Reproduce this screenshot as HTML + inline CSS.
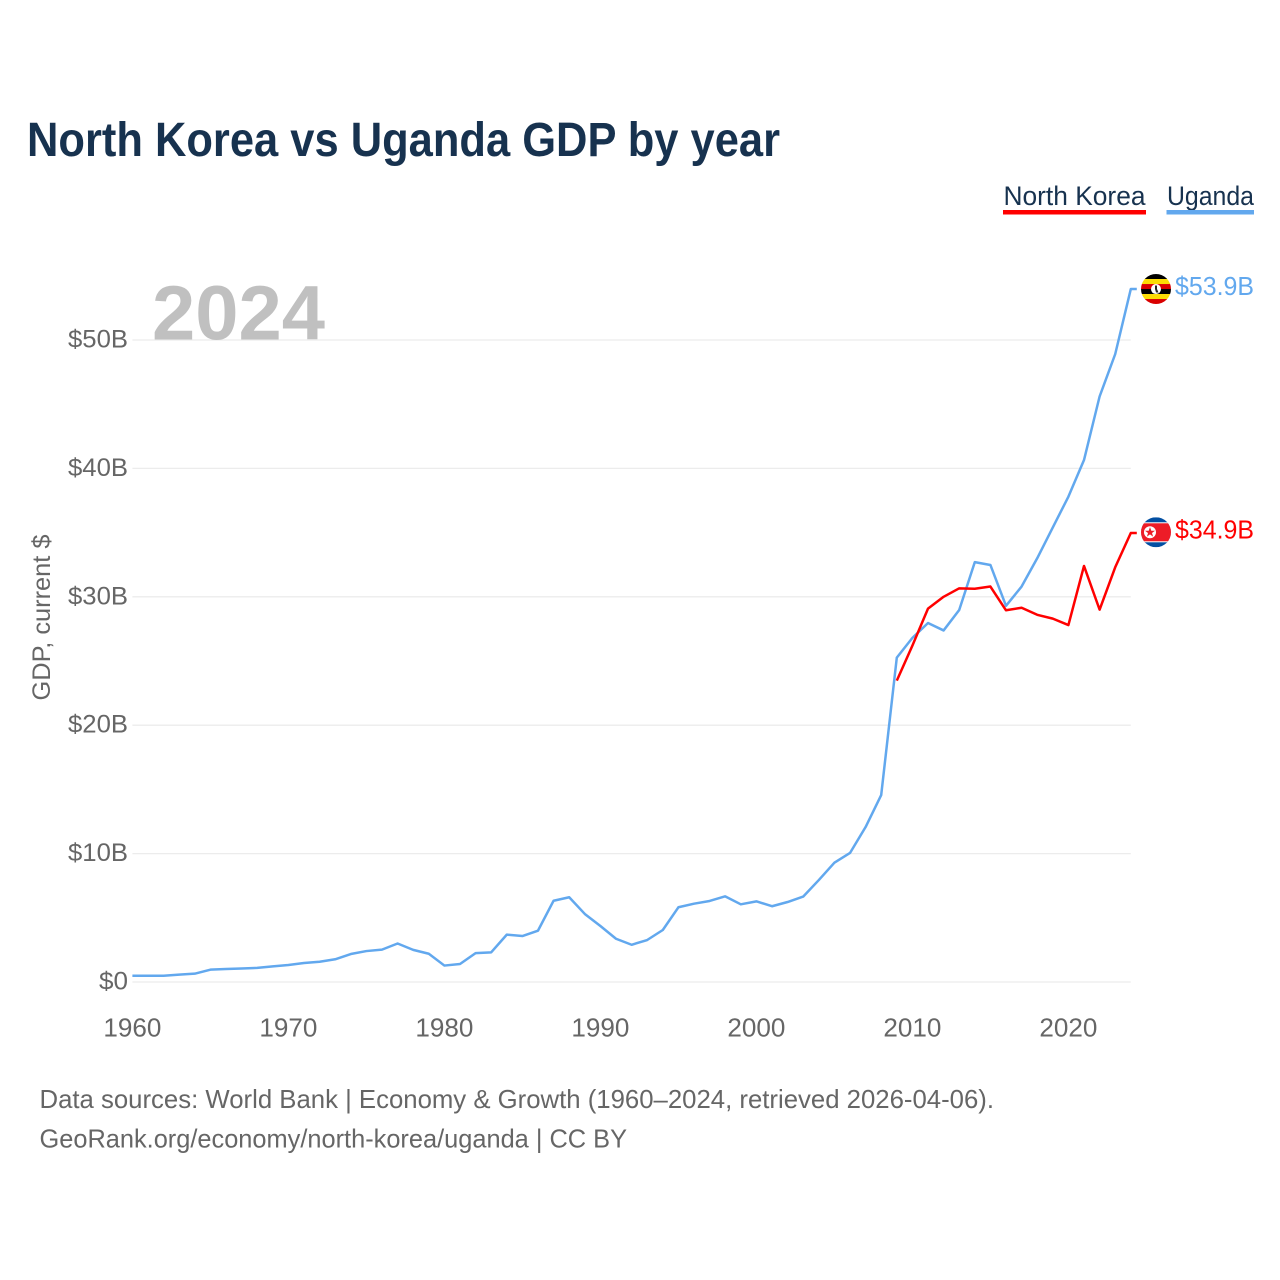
<!DOCTYPE html>
<html lang="en">
<head>
<meta charset="utf-8">
<title>North Korea vs Uganda GDP by year</title>
<style>
html,body{margin:0;padding:0;background:#fff;}
svg{display:block;font-family:"Liberation Sans",Arial,sans-serif;}
</style>
</head>
<body>
<svg id="chart" width="1280" height="1280" viewBox="0 0 1280 1280" xmlns="http://www.w3.org/2000/svg">
  <rect x="0" y="0" width="1280" height="1280" fill="#ffffff"/>
  <defs>
    <clipPath id="flag-clip-ug"><circle id="clip-ug" cx="1156" cy="289" r="15"/></clipPath>
    <clipPath id="flag-clip-kp"><circle id="clip-kp" cx="1156" cy="533" r="15"/></clipPath>
  </defs>

  <text x="27" y="156" font-size="48" font-weight="700" fill="#17324f" textLength="753" lengthAdjust="spacingAndGlyphs">North Korea vs Uganda GDP by year</text>

  <g>
    <g>
      <text x="1003.5" y="205" font-size="27" fill="#17324f" textLength="142" lengthAdjust="spacingAndGlyphs">North Korea</text>
      <rect x="1003" y="210" width="143" height="4.5" fill="#ff0000"/>
    </g>
    <g>
      <text x="1167" y="205" font-size="27" fill="#17324f" textLength="87" lengthAdjust="spacingAndGlyphs">Uganda</text>
      <rect x="1166.5" y="210" width="87.5" height="4.5" fill="#62a8ee"/>
    </g>
  </g>

  <g id="grid"></g>
  <text x="152" y="339.5" font-size="77" font-weight="700" fill="#c0c0c0" textLength="173" lengthAdjust="spacingAndGlyphs">2024</text>
  <g id="y-ticks"></g>
  <g id="x-ticks"></g>
  <text transform="translate(50,617.5) rotate(-90)" text-anchor="middle" font-size="25" fill="#666666" textLength="166" lengthAdjust="spacingAndGlyphs">GDP, current $</text>

  <g id="series"></g>

  <g id="flag-ug" clip-path="url(#flag-clip-ug)">
    <rect x="1141" y="274" width="30" height="5" fill="#000000"/>
    <rect x="1141" y="279" width="30" height="5" fill="#fcdc04"/>
    <rect x="1141" y="284" width="30" height="5" fill="#d90000"/>
    <rect x="1141" y="289" width="30" height="5" fill="#000000"/>
    <rect x="1141" y="294" width="30" height="5" fill="#fcdc04"/>
    <rect x="1141" y="299" width="30" height="5" fill="#d90000"/>
    <circle cx="1156" cy="289" r="5" fill="#ffffff"/>
    <path d="M1155 285.5 L1157 285.5 L1157 289 L1158.5 292.5 L1156 292.5 L1155 289 Z" fill="#222222"/>
  </g>
  <g id="flag-kp" clip-path="url(#flag-clip-kp)">
    <rect x="1141" y="518" width="30" height="30" fill="#024fa2"/>
    <rect x="1141" y="523" width="30" height="20" fill="#ffffff"/>
    <rect x="1141" y="524" width="30" height="18" fill="#ed1c27"/>
    <circle cx="1150" cy="533" r="6" fill="#ffffff"/>
    <path d="M1150 527.8 L1151.3 531.4 L1155 531.4 L1152 533.7 L1153.1 537.3 L1150 535.1 L1146.9 537.3 L1148 533.7 L1145 531.4 L1148.7 531.4 Z" fill="#ed1c27"/>
  </g>

  <g id="end-labels"></g>

  <text x="39.5" y="1108" font-size="26" fill="#666666" textLength="954.5" lengthAdjust="spacingAndGlyphs">Data sources: World Bank | Economy &amp; Growth (1960–2024, retrieved 2026-04-06).</text>
  <text x="39.5" y="1147.5" font-size="26" fill="#666666" textLength="587.5" lengthAdjust="spacingAndGlyphs">GeoRank.org/economy/north-korea/uganda | CC BY</text>
</svg>

<script>
const firstYear = 1960;
const lastYear = 2024;
const xTickYears = [1960, 1970, 1980, 1990, 2000, 2010, 2020];
const yTickValues = [0, 10, 20, 30, 40, 50];
const yTickLabels = ['$0', '$10B', '$20B', '$30B', '$40B', '$50B'];
const ugandaStartYear = 1960;
const ugandaValues = [
  0.49, 0.49, 0.49, 0.57, 0.65, 0.96, 1.01, 1.05, 1.10, 1.22,
  1.32, 1.48, 1.58, 1.77, 2.18, 2.41, 2.52, 3.00, 2.50, 2.20,
  1.28, 1.40, 2.25, 2.31, 3.69, 3.58, 4.00, 6.33, 6.60, 5.30,
  4.36, 3.37, 2.90, 3.27, 4.05, 5.82, 6.10, 6.31, 6.67, 6.05,
  6.28, 5.90, 6.23, 6.65, 7.94, 9.29, 10.05, 12.07, 14.56, 25.26,
  26.80, 27.96, 27.38, 28.97, 32.70, 32.48, 29.30, 30.80, 33.00, 35.40,
  37.80, 40.65, 45.60, 48.90, 53.97
];
const northKoreaStartYear = 2009;
const northKoreaValues = [
  23.47, 26.20, 29.08, 30.00, 30.66, 30.63, 30.80, 28.95,
  29.15, 28.60, 28.30, 27.80, 32.40, 29.00, 32.30, 34.97
];
const ugandaEndLabel = '$53.9B';
const northKoreaEndLabel = '$34.9B';

const SVG_NS = 'http://www.w3.org/2000/svg';
const plotLeft = 132.4, plotRight = 1130.8, plotBottom = 982, plotTop = 340;
function xScale(year) {
  return plotLeft + (year - firstYear) * (plotRight - plotLeft) / (lastYear - firstYear);
}
function yScale(value) {
  return plotBottom - value * (plotBottom - plotTop) / 50;
}
function make(tag, attrs, parent) {
  const el = document.createElementNS(SVG_NS, tag);
  for (const k in attrs) el.setAttribute(k, attrs[k]);
  parent.appendChild(el);
  return el;
}

const gridLayer = document.getElementById('grid');
const yLayer = document.getElementById('y-ticks');
yTickValues.forEach(function (v, i) {
  const line = make('line', {x1: plotLeft, x2: plotRight, y1: yScale(v), y2: yScale(v), stroke: '#ececec', 'stroke-width': 1.3}, gridLayer);
  
  
  const label = yTickLabels[i];
  const t = make('text', {x: 128, y: yScale(v) + 7.5, 'text-anchor': 'end', 'font-size': 25, fill: '#666666', textLength: label.length === 2 ? 29 : 60, lengthAdjust: 'spacingAndGlyphs'}, yLayer);
  
  
  t.textContent = label;
});

const xLayer = document.getElementById('x-ticks');
xTickYears.forEach(function (yr) {
  const t = make('text', {x: xScale(yr), y: 1036.5, 'text-anchor': 'middle', 'font-size': 25.5, fill: '#666666', textLength: 58, lengthAdjust: 'spacingAndGlyphs'}, xLayer);
  
  
  t.textContent = String(yr);
});

function linePoints(startYear, values) {
  const pts = values.map(function (v, i) {
    return xScale(startYear + i).toFixed(2) + ',' + yScale(v).toFixed(2);
  });
  const last = values[values.length - 1];
  pts.push((plotRight + 6).toFixed(2) + ',' + yScale(last).toFixed(2));
  return pts.join(' ');
}
const seriesLayer = document.getElementById('series');
const ugLine = make('polyline', {points: linePoints(ugandaStartYear, ugandaValues), fill: 'none', stroke: '#62a8ee', 'stroke-width': 2.5, 'stroke-linejoin': 'round'}, seriesLayer);


const kpLine = make('polyline', {points: linePoints(northKoreaStartYear, northKoreaValues), fill: 'none', stroke: '#ff0000', 'stroke-width': 2.5, 'stroke-linejoin': 'round'}, seriesLayer);



const labelLayer = document.getElementById('end-labels');
const ugEndY = yScale(ugandaValues[ugandaValues.length - 1]);
const kpEndY = yScale(northKoreaValues[northKoreaValues.length - 1]);
const ugText = make('text', {x: 1175, y: ugEndY + 6, 'font-size': 26, fill: '#62a8ee', textLength: 79, lengthAdjust: 'spacingAndGlyphs'}, labelLayer);


ugText.textContent = ugandaEndLabel;
const kpText = make('text', {x: 1175, y: kpEndY + 5.5, 'font-size': 26, fill: '#ff0000', textLength: 79, lengthAdjust: 'spacingAndGlyphs'}, labelLayer);


kpText.textContent = northKoreaEndLabel;

document.getElementById('flag-ug').setAttribute('transform', 'translate(0,' + (ugEndY - 289).toFixed(2) + ')');
document.getElementById('flag-kp').setAttribute('transform', 'translate(0,' + (kpEndY - 533.7).toFixed(2) + ')');
</script>
</body>
</html>
